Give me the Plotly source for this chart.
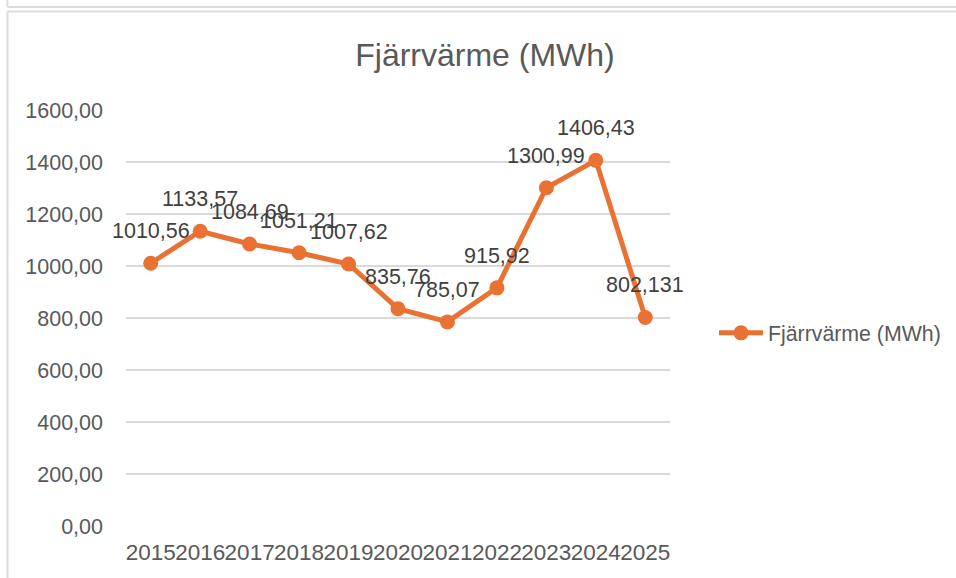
import plotly.graph_objects as go

# Annual district heating use
years = ["2015", "2016", "2017", "2018", "2019", "2020",
         "2021", "2022", "2023", "2024", "2025"]
heat_mwh = [1010.56, 1133.57, 1084.69, 1051.21, 1007.62, 835.76,
            785.07, 915.92, 1300.99, 1406.43, 802.131]
series_name = "Fjärrvärme (MWh)"
y_ticks = [0, 200, 400, 600, 800, 1000, 1200, 1400, 1600]

W, H = 956, 578
ML, MR, MT, MB = 126, 286, 110, 52
PW, PH = W - ML - MR, H - MT - MB

ORANGE = "#E97132"
GRID = "#D9D9D9"
FRAME = "#DCDCDC"
TEXT = "#595959"
FONT = "Liberation Sans, Arial, sans-serif"


def px_x(px):
    return (px - ML) / PW


def px_y(py):
    return (H - MB - py) / PH


def label(v):
    return str(v).replace(".", ",")


fig = go.Figure()
fig.add_trace(go.Scatter(
    x=years, y=heat_mwh, name=series_name,
    mode="lines+markers",
    line=dict(color=ORANGE, width=5),
    marker=dict(color=ORANGE, size=15),
    cliponaxis=False,
))

# value labels above each point (category index on the x axis)
annotations = [
    dict(x=i, y=v, xref="x", yref="y", text=label(v), showarrow=False,
         yshift=32, yanchor="middle", xanchor="center",
         font=dict(family=FONT, size=21.5, color="#404040"))
    for i, v in enumerate(heat_mwh)
]

# chart frame borders
lw = 2
shapes = [
    # lower (chart) box: top and left edges
    dict(type="line", xref="paper", yref="paper",
         x0=px_x(7.5), x1=px_x(W + 5), y0=px_y(11.5), y1=px_y(11.5),
         line=dict(color=FRAME, width=lw), layer="below"),
    dict(type="line", xref="paper", yref="paper",
         x0=px_x(7.5), x1=px_x(7.5), y0=px_y(11.5), y1=px_y(H + 5),
         line=dict(color=FRAME, width=lw), layer="below"),
    # upper box: bottom and left edges
    dict(type="line", xref="paper", yref="paper",
         x0=px_x(7.5), x1=px_x(W + 5), y0=px_y(7), y1=px_y(7),
         line=dict(color=FRAME, width=lw), layer="below"),
    dict(type="line", xref="paper", yref="paper",
         x0=px_x(7.5), x1=px_x(7.5), y0=px_y(-5), y1=px_y(7),
         line=dict(color=FRAME, width=lw), layer="below"),
]

fig.update_layout(
    width=W, height=H,
    margin=dict(l=ML, r=MR, t=MT, b=MB),
    paper_bgcolor="white", plot_bgcolor="white",
    separators=",.",
    title=dict(text=series_name, x=485 / W, xanchor="center",
               y=1 - 55 / H, yanchor="middle", xref="container", yref="container",
               font=dict(family=FONT, size=32, color=TEXT)),
    showlegend=True,
    legend=dict(xref="container", yref="container",
                x=714 / W, xanchor="left", y=1 - 333 / H, yanchor="middle",
                font=dict(family=FONT, size=21.3, color=TEXT),
                bgcolor="rgba(0,0,0,0)", itemwidth=44),
    annotations=annotations,
    shapes=shapes,
)

fig.update_xaxes(type="category", range=[-0.5, len(years) - 0.5], tickangle=0,
                 showgrid=False, zeroline=False, showline=False, ticks="",
                 ticklabelstandoff=10, automargin=False,
                 tickfont=dict(family=FONT, size=22.5, color=TEXT))
fig.update_yaxes(range=[0, 1600], tickvals=y_ticks, tickformat=".2f",
                 showgrid=True, gridcolor=GRID, gridwidth=1.5, zeroline=False,
                 showline=False, ticks="", ticklabelstandoff=22, automargin=False,
                 tickfont=dict(family=FONT, size=21.5, color=TEXT))

fig.write_html("out.html")
